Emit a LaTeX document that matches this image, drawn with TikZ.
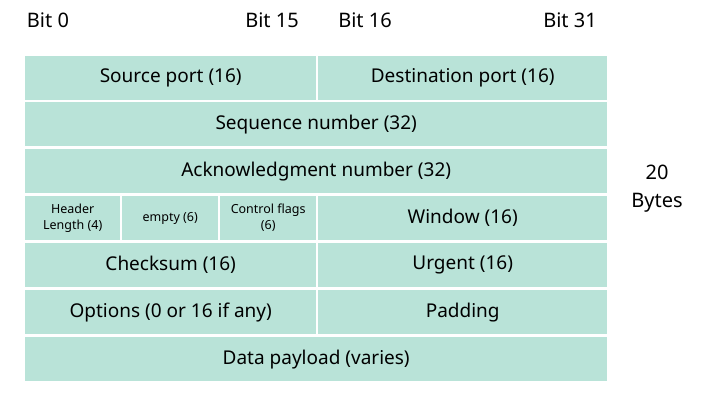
\documentclass[tikz,border=0pt]{standalone}
\usepackage{fontspec}
\setmainfont{Noto Sans}
\usetikzlibrary{positioning}
\definecolor{cellfill}{HTML}{B9E3D8}
\tikzset{
  cell/.style = {anchor=north west, fill=cellfill, inner sep=0pt,
    minimum height=44pt, align=center, font=\fontsize{19}{22}\selectfont},
  smallcell/.style = {cell, font=\fontsize{12.5}{16}\selectfont},
  bitlabel/.style = {font=\fontsize{20}{28}\selectfont}}
\begin{document}
\begin{tikzpicture}[x=1pt,y=-1pt]
 \useasboundingbox (0,0) rectangle (702,403);

\node [bitlabel] (b0) at (48,20) {Bit 0};
\node [bitlabel] (b15) at (272,20) {Bit 15};
\node [bitlabel] (b16) at (365,20) {Bit 16};
\node [bitlabel] (b31) at (570,20) {Bit 31};

\node [cell, minimum width=291pt] (src) at (25,56) {Source port (16)};
\node [cell, minimum width=289pt] (dst) at (318,56) {Destination port (16)};
\node [cell, minimum width=582pt] (seq) at (25,102) {Sequence number (32)};
\node [cell, minimum width=582pt] (ack) at (25,149) {Acknowledgment number (32)};
\node [smallcell, minimum width=95pt] (hlen) at (25,196) {Header\\Length (4)};
\node [smallcell, minimum width=96pt] (empty) at (122,196) {empty (6)};
\node [smallcell, minimum width=96pt] (flags) at (220,196) {Control flags\\(6)};
\node [cell, minimum width=289pt] (win) at (318,196) {Window (16)};
\node [cell, minimum width=291pt] (chk) at (25,243) {Checksum (16)};
\node [cell, minimum width=289pt] (urg) at (318,243) {Urgent (16)};
\node [cell, minimum width=291pt] (opt) at (25,290) {Options (0 or 16 if any)};
\node [cell, minimum width=289pt] (pad) at (318,290) {Padding};
\node [cell, minimum width=582pt] (data) at (25,337) {Data payload (varies)};

\node [bitlabel, align=center] (size) at (657,189) {20\\Bytes};
\end{tikzpicture}
\end{document}
